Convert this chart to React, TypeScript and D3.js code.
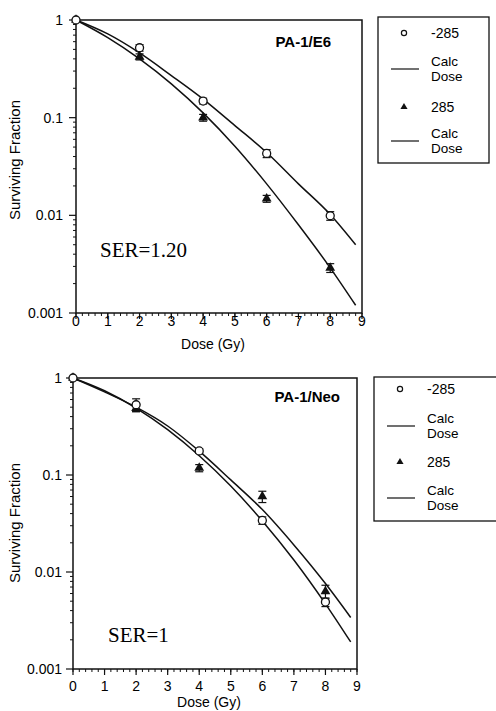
import React from 'react';
import * as d3 from 'd3';

// measured doses
const doses = [0, 2, 4, 6, 8];
// dose grid for the fitted "Calc Dose" curves
const calcDoses = [0, 1, 2, 3, 4, 5, 6, 7, 8, 8.8];

// PA-1/E6
const e6Minus = [1, 0.52, 0.148, 0.043, 0.0099];
const e6MinusErr = [0.03, 0.04, 0.01, 0.004, 0.001];
const e6Plus = [1, 0.42, 0.1, 0.0148, 0.0029];
const e6PlusErr = [0.03, 0.03, 0.008, 0.0012, 0.0003];
const e6MinusCalc = [1, 0.72, 0.46, 0.27, 0.155, 0.083, 0.044, 0.021, 0.0102, 0.005];
const e6PlusCalc = [1, 0.66, 0.4, 0.222, 0.112, 0.051, 0.021, 0.008, 0.0029, 0.0012];

// PA-1/Neo
const neoMinus = [1, 0.53, 0.177, 0.034, 0.0049];
const neoMinusErr = [0.03, 0.08, 0.01, 0.003, 0.0005];
const neoPlus = [1, 0.49, 0.118, 0.06, 0.0063];
const neoPlusErr = [0.03, 0.04, 0.01, 0.008, 0.001];
const neoPlusCalc = [1, 0.72, 0.5, 0.32, 0.176, 0.089, 0.044, 0.019, 0.0076, 0.0034];
const neoMinusCalc = [1, 0.738, 0.49, 0.293, 0.158, 0.077, 0.0336, 0.0133, 0.0047, 0.0019];

const yTicks = [1, 0.1, 0.01, 0.001];
const yTickLabels = ['1', '0.1', '0.01', '0.001'];
const xTicks = [0, 1, 2, 3, 4, 5, 6, 7, 8, 9];
const legendLabels = ['-285', 'Calc', 'Dose', '285'];

const sans = '"Liberation Sans", Arial, sans-serif';

type PanelProps = {
  left: number; right: number; top: number; bottom: number;
  title: string; titleX: number; titleY: number;
  ser: string; serX: number; serY: number;
  xLabelDy: number; xTitleDy: number; yLabelY: number; yTickDx: number;
  minus: number[]; minusErr: number[]; plus: number[]; plusErr: number[];
  minusCalc: number[]; plusCalc: number[];
  legX: number; legY: number; legW: number; legH: number; rows: number[];
};

const Panel = (p: PanelProps) => {
  const x = d3.scaleLinear().domain([0, 9]).range([p.left, p.right]);
  const y = d3.scaleLog().domain([0.001, 1]).range([p.bottom, p.top]);
  const line = d3.line<number>()
    .x((d, i) => x(calcDoses[i]))
    .y(d => y(d))
    .curve(d3.curveMonotoneX);
  const tri = d3.symbol().type(d3.symbolTriangle).size(42)() as string;
  const triSmall = d3.symbol().type(d3.symbolTriangle).size(22)() as string;

  const minorY: number[] = [];
  [0.001, 0.01, 0.1].forEach(dec => {
    for (let k = 2; k <= 9; k++) minorY.push(dec * k);
  });
  const minorX = d3.range(0, 9.01, 0.2);

  const errBar = (d: number, v: number, e: number, key: string) => {
    const cx = x(d);
    const y1 = y(Math.min(1, v + e));
    const y2 = y(Math.max(0.0011, v - e));
    return (
      <g key={key} stroke="#111" strokeWidth={1.2}>
        <line x1={cx} x2={cx} y1={y1} y2={y2} />
        <line x1={cx - 4} x2={cx + 4} y1={y1} y2={y1} />
        <line x1={cx - 4} x2={cx + 4} y1={y2} y2={y2} />
      </g>
    );
  };

  const rowY = p.rows.map(r => p.legY + r);

  return (
    <g>
      {/* frame */}
      <rect x={p.left} y={p.top} width={p.right - p.left} height={p.bottom - p.top}
        fill="none" stroke="#111" strokeWidth={1.5} />

      {/* y axis ticks */}
      {minorY.map((v, i) => (
        <line key={'my' + i} x1={p.left - 3} x2={p.left} y1={y(v)} y2={y(v)} stroke="#111" strokeWidth={1} />
      ))}
      {yTicks.map((v, i) => (
        <g key={'y' + i}>
          <line x1={p.left - 7} x2={p.left} y1={y(v)} y2={y(v)} stroke="#111" strokeWidth={1.2} />
          <text x={p.left - p.yTickDx} y={y(v)} dy="0.35em" textAnchor="end" fontFamily={sans} fontSize={14}>
            {yTickLabels[i]}
          </text>
        </g>
      ))}

      {/* x axis ticks */}
      {minorX.map((v, i) => (
        <line key={'mx' + i} x1={x(v)} x2={x(v)} y1={p.bottom} y2={p.bottom + 3} stroke="#111" strokeWidth={1} />
      ))}
      {xTicks.map(v => (
        <g key={'x' + v}>
          <line x1={x(v)} x2={x(v)} y1={p.bottom} y2={p.bottom + 6} stroke="#111" strokeWidth={1.2} />
          <text x={x(v)} y={p.bottom + p.xLabelDy} dy="0.35em" textAnchor="middle" fontFamily={sans} fontSize={14}>{v}</text>
        </g>
      ))}
      <text x={(p.left + p.right) / 2 - 6} y={p.bottom + p.xTitleDy} dy="0.35em" textAnchor="middle" fontFamily={sans} fontSize={14}>
        Dose (Gy)
      </text>
      <text transform={`translate(20,${p.yLabelY}) rotate(-90)`} textAnchor="middle"
        fontFamily={sans} fontSize={15}>
        Surviving Fraction
      </text>

      {/* fitted curves */}
      <path d={line(p.minusCalc) as string} fill="none" stroke="#111" strokeWidth={1.5} />
      <path d={line(p.plusCalc) as string} fill="none" stroke="#111" strokeWidth={1.5} />

      {/* measured points */}
      {doses.map((d, i) => errBar(d, p.minus[i], p.minusErr[i], 'em' + i))}
      {doses.map((d, i) => errBar(d, p.plus[i], p.plusErr[i], 'ep' + i))}
      {doses.map((d, i) => (
        <path key={'p' + i} d={tri} transform={`translate(${x(d)},${y(p.plus[i])})`} fill="#111" />
      ))}
      {doses.map((d, i) => (
        <circle key={'c' + i} cx={x(d)} cy={y(p.minus[i])} r={4} fill="white" stroke="#111" strokeWidth={1.3} />
      ))}

      <text x={p.titleX} y={p.titleY} textAnchor="end" fontFamily={sans} fontWeight="bold" fontSize={15}>
        {p.title}
      </text>
      <text x={p.serX} y={p.serY} fontFamily='"Liberation Serif", "Times New Roman", serif' fontSize={21}>
        {p.ser}
      </text>

      {/* legend */}
      <rect x={p.legX} y={p.legY} width={p.legW} height={p.legH} fill="white" stroke="#111" strokeWidth={1.3} />
      <circle cx={p.legX + 26} cy={rowY[0]} r={2.6} fill="white" stroke="#111" strokeWidth={1.2} />
      <text x={p.legX + 53} y={rowY[0]} dy="0.35em" fontFamily={sans} fontSize={14}>{legendLabels[0]}</text>
      <path d={triSmall} transform={`translate(${p.legX + 26},${rowY[2]})`} fill="#111" />
      <text x={p.legX + 53} y={rowY[2]} dy="0.35em" fontFamily={sans} fontSize={14}>{legendLabels[3]}</text>
      {[rowY[1], rowY[3]].map((ry, i) => (
        <g key={'lg' + i}>
          <line x1={p.legX + 13} x2={p.legX + 41} y1={ry} y2={ry} stroke="#111" strokeWidth={1.2} />
          <text x={p.legX + 53} y={ry - 8} dy="0.35em" fontFamily={sans} fontSize={13.5}>{legendLabels[1]}</text>
          <text x={p.legX + 53} y={ry + 7} dy="0.35em" fontFamily={sans} fontSize={13.5}>{legendLabels[2]}</text>
        </g>
      ))}
    </g>
  );
};

export default function App() {
  return (
    <>
      <style>{'body{margin:0}'}</style>
      <svg width={496} height={711} style={{ display: 'block', background: 'white' }}>
        <Panel left={76} right={362} top={20} bottom={313}
          title="PA-1/E6" titleX={331} titleY={47}
          ser="SER=1.20" serX={100} serY={257}
          xLabelDy={8} xTitleDy={31} yLabelY={160} yTickDx={13}
          minus={e6Minus} minusErr={e6MinusErr} plus={e6Plus} plusErr={e6PlusErr}
          minusCalc={e6MinusCalc} plusCalc={e6PlusCalc}
          legX={378} legY={17} legW={111} legH={146} rows={[16, 52, 90, 124]} />
        <Panel left={73} right={357} top={378} bottom={669}
          title="PA-1/Neo" titleX={340} titleY={402}
          ser="SER=1" serX={108} serY={642}
          xLabelDy={17} xTitleDy={33} yLabelY={523} yTickDx={11}
          minus={neoMinus} minusErr={neoMinusErr} plus={neoPlus} plusErr={neoPlusErr}
          minusCalc={neoMinusCalc} plusCalc={neoPlusCalc}
          legX={374} legY={377} legW={130} legH={144} rows={[12, 49, 85, 121]} />
      </svg>
    </>
  );
}
